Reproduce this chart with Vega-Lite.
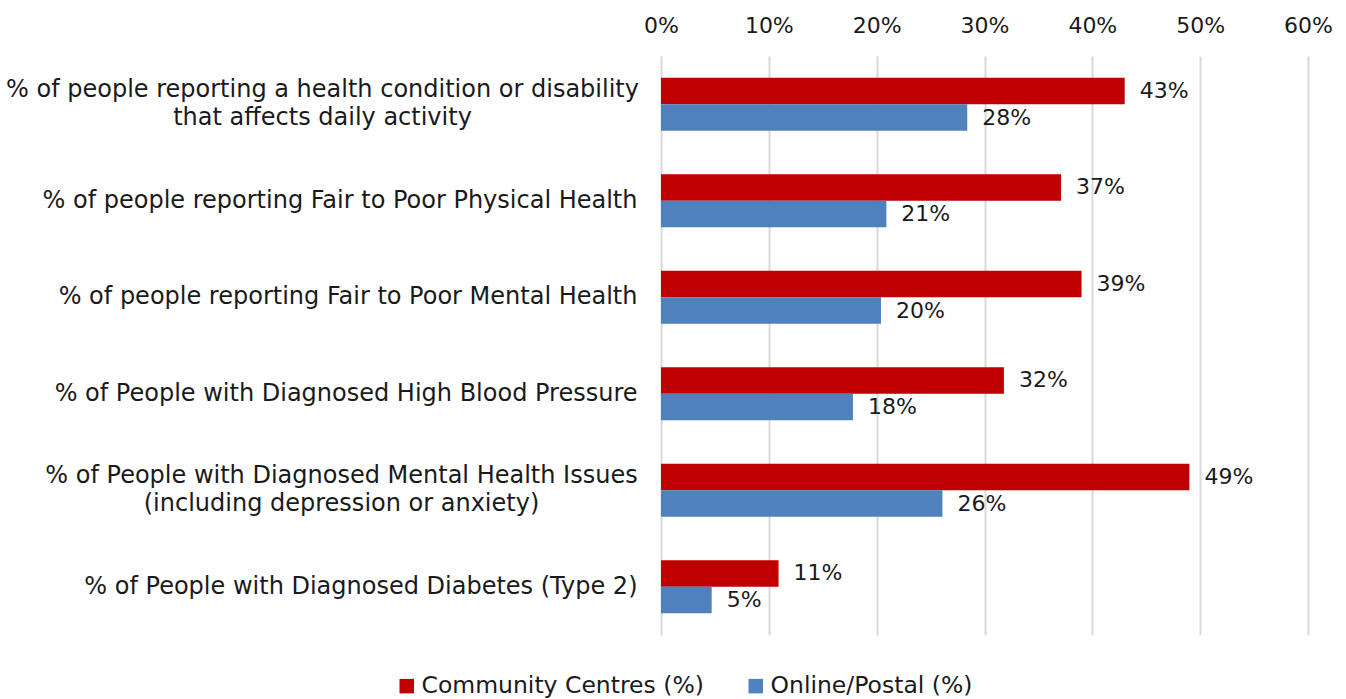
{
  "$schema": "https://vega.github.io/schema/vega-lite/v6.json",
  "width": 647,
  "height": 579,
  "autosize": {"type": "none"},
  "padding": {"left": 661, "top": 56, "right": 38, "bottom": 64},
  "background": "white",
  "config": {"view": {"stroke": null}, "font": "DejaVu Sans"},
  "data": {
    "values": [
      {"cat": "% of people reporting a health condition or disability|that affects daily activity", "series": "Community Centres (%)", "value": 0.430},
      {"cat": "% of people reporting a health condition or disability|that affects daily activity", "series": "Online/Postal (%)", "value": 0.284},
      {"cat": "% of people reporting Fair to Poor Physical Health", "series": "Community Centres (%)", "value": 0.371},
      {"cat": "% of people reporting Fair to Poor Physical Health", "series": "Online/Postal (%)", "value": 0.209},
      {"cat": "% of people reporting Fair to Poor Mental Health", "series": "Community Centres (%)", "value": 0.390},
      {"cat": "% of people reporting Fair to Poor Mental Health", "series": "Online/Postal (%)", "value": 0.204},
      {"cat": "% of People with Diagnosed High Blood Pressure", "series": "Community Centres (%)", "value": 0.318},
      {"cat": "% of People with Diagnosed High Blood Pressure", "series": "Online/Postal (%)", "value": 0.178},
      {"cat": "% of People with Diagnosed Mental Health Issues|(including depression or anxiety)", "series": "Community Centres (%)", "value": 0.490},
      {"cat": "% of People with Diagnosed Mental Health Issues|(including depression or anxiety)", "series": "Online/Postal (%)", "value": 0.261},
      {"cat": "% of People with Diagnosed Diabetes (Type 2)", "series": "Community Centres (%)", "value": 0.109},
      {"cat": "% of People with Diagnosed Diabetes (Type 2)", "series": "Online/Postal (%)", "value": 0.047}
    ]
  },
  "encoding": {
    "y": {
      "field": "cat",
      "type": "nominal",
      "sort": null,
      "scale": {"paddingInner": 0.45, "paddingOuter": 0.225},
      "axis": {
        "title": null,
        "domain": false,
        "ticks": false,
        "labelExpr": "split(datum.value, '|')",
        "labelFontSize": 24,
        "labelColor": "#1a1a1a",
        "labelLineHeight": 28,
        "labelLimit": 700,
        "labelAlign": {
          "condition": {"test": "indexof(datum.value, '|') >= 0", "value": "center"},
          "value": "right"
        },
        "labelOffset": {
          "condition": {"test": "indexof(datum.value, '|') >= 0", "value": -14},
          "value": 0
        },
        "labelPadding": {
          "condition": [
            {"test": "indexof(datum.value, 'disability') >= 0", "value": 339},
            {"test": "indexof(datum.value, 'including') >= 0", "value": 320}
          ],
          "value": 24
        }
      }
    },
    "yOffset": {
      "field": "series",
      "type": "nominal",
      "sort": ["Community Centres (%)", "Online/Postal (%)"],
      "scale": {"paddingInner": 0, "paddingOuter": 0}
    },
    "x": {
      "field": "value",
      "type": "quantitative",
      "scale": {"domain": [0, 0.6], "nice": false},
      "axis": {
        "orient": "top",
        "title": null,
        "format": ".0%",
        "values": [0, 0.1, 0.2, 0.3, 0.4, 0.5, 0.6],
        "domain": false,
        "ticks": false,
        "labelFlush": false,
        "labelFontSize": 22,
        "labelColor": "#1a1a1a",
        "labelPadding": 19,
        "grid": true,
        "gridColor": "#d9d9d9",
        "gridWidth": 2
      }
    }
  },
  "layer": [
    {
      "mark": {"type": "bar"},
      "encoding": {
        "color": {
          "field": "series",
          "type": "nominal",
          "sort": ["Community Centres (%)", "Online/Postal (%)"],
          "scale": {"range": ["#C00000", "#4F81BD"]},
          "legend": {
            "orient": "none",
            "legendX": -266,
            "legendY": 618,
            "direction": "horizontal",
            "title": null,
            "symbolType": "square",
            "symbolSize": 210,
            "symbolStrokeWidth": 0,
            "labelFontSize": 23.5,
            "labelLimit": 400,
            "labelColor": "#1a1a1a",
            "columnPadding": 40,
            "labelOffset": 3
          }
        }
      }
    },
    {
      "mark": {"type": "text", "align": "left", "baseline": "middle", "dx": 15, "fontSize": 22, "color": "#1a1a1a"},
      "encoding": {
        "text": {"field": "value", "type": "quantitative", "format": ".0%"}
      }
    }
  ]
}
